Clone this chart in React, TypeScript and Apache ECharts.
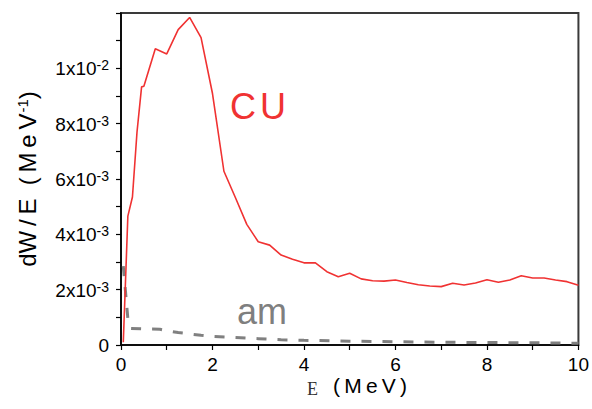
import React, { useEffect, useRef } from "react";
import * as echarts from "echarts";

// Energy (MeV) and dW/E values (in units of 1e-3 MeV^-1)
const cuE = [0.05, 0.15, 0.25, 0.35, 0.45, 0.5, 0.75, 1.0, 1.25, 1.5, 1.75, 2.0, 2.25, 2.5, 2.75, 3.0, 3.25, 3.5, 3.75, 4.0, 4.25, 4.5, 4.75, 5.0, 5.25, 5.5, 5.75, 6.0, 6.25, 6.5, 6.75, 7.0, 7.25, 7.5, 7.75, 8.0, 8.25, 8.5, 8.75, 9.0, 9.25, 9.5, 9.75, 10.0];
const cuW = [0.1, 4.66, 5.35, 7.7, 9.33, 9.35, 10.71, 10.52, 11.4, 11.84, 11.11, 9.09, 6.28, 5.33, 4.36, 3.73, 3.61, 3.25, 3.1, 2.97, 2.97, 2.65, 2.47, 2.59, 2.39, 2.32, 2.31, 2.35, 2.26, 2.18, 2.13, 2.11, 2.23, 2.17, 2.24, 2.36, 2.27, 2.35, 2.5, 2.42, 2.42, 2.35, 2.29, 2.16];

const amE = [0.05, 0.1, 0.15, 0.22, 0.5, 0.85, 1.0, 1.25, 1.5, 1.75, 2.0, 2.5, 3.0, 3.5, 4.0, 5.0, 6.0, 7.0, 8.0, 9.0, 10.0];
const amW = [2.85, 1.9, 0.95, 0.6, 0.58, 0.57, 0.52, 0.45, 0.4, 0.35, 0.31, 0.27, 0.23, 0.19, 0.17, 0.14, 0.12, 0.1, 0.09, 0.08, 0.06];

const SCALE = 1e-3;
const FONT = "Liberation Sans, Arial, sans-serif";
const TS = "\u2009";

export default function App() {
  const ref = useRef<HTMLDivElement>(null);
  useEffect(() => {
    if (!ref.current) return;
    const chart = echarts.init(ref.current, undefined, { renderer: "svg" });
    const cuData = cuE.map((e, i) => [e, cuW[i] * SCALE]);
    const amData = amE.map((e, i) => [e, amW[i] * SCALE]);
    chart.setOption({
      animation: false,
      backgroundColor: "#fff",
      grid: {
        left: 121,
        right: 12,
        top: 13,
        bottom: 64,
        show: true,
        borderColor: "#3a3a3a",
        borderWidth: 2,
        backgroundColor: "transparent",
      },
      xAxis: {
        type: "value",
        min: 0,
        max: 10,
        interval: 2,
        axisLine: { show: true, lineStyle: { color: "#000", width: 1.5 } },
        axisTick: { show: true, length: 5, lineStyle: { color: "#000", width: 1.2 } },
        minorTick: { show: true, splitNumber: 2, length: 5, lineStyle: { color: "#000", width: 1.2 } },
        splitLine: { show: false },
        axisLabel: { color: "#000", fontSize: 19, fontFamily: FONT, margin: 10 },
      },
      yAxis: {
        type: "value",
        min: 0,
        max: 0.012,
        interval: 0.002,
        name: `{a|dW${TS}/${TS}E}{a|  (${TS}M${TS}e${TS}V}{s|-1}{a|)}`,
        nameLocation: "middle",
        nameRotate: 90,
        nameGap: 82,
        nameTextStyle: {
          rich: {
            a: { fontSize: 24, fontFamily: FONT, color: "#000", verticalAlign: "bottom" },
            s: { fontSize: 15, fontFamily: FONT, color: "#000", verticalAlign: "bottom", padding: [0, 0, 9, 1] },
          },
        },
        axisLine: { show: true, lineStyle: { color: "#000", width: 1.5 } },
        axisTick: { show: true, length: 5, lineStyle: { color: "#000", width: 1.2 } },
        minorTick: { show: true, splitNumber: 2, length: 5, lineStyle: { color: "#000", width: 1.2 } },
        splitLine: { show: false },
        axisLabel: {
          showMaxLabel: false,
          margin: 12,
          formatter: (v: number) => {
            const k = Math.round(v * 1000);
            if (k === 0) return "{b|0}";
            if (k >= 10) return `{b|${k / 10}x10}{s|-2}`;
            return `{b|${k}x10}{s|-3}`;
          },
          rich: {
            b: { fontSize: 19, fontFamily: FONT, color: "#000", verticalAlign: "bottom" },
            s: { fontSize: 14, fontFamily: FONT, color: "#000", verticalAlign: "bottom", padding: [0, 0, 6, 0] },
          },
        },
      },
      graphic: [
        { type: "text", left: 230, top: 88, style: { text: "C", fontSize: 36, fontFamily: FONT, fill: "#f03232" } },
        { type: "text", left: 260, top: 88, style: { text: "U", fontSize: 36, fontFamily: FONT, fill: "#f03232" } },
        { type: "text", left: 237, top: 293, style: { text: "am", fontSize: 36, fontFamily: FONT, fill: "#7f7f7f" } },
        { type: "text", left: 307, top: 380, style: { text: "E", fontSize: 18, fontFamily: "Liberation Serif, Times New Roman, serif", fill: "#333" } },
        { type: "text", left: 333, top: 375, style: { text: `(${TS}M${TS}e${TS}V${TS})`, fontSize: 21, fontFamily: FONT, fill: "#000" } },
      ],
      series: [
        {
          type: "line",
          data: amData,
          showSymbol: false,
          lineStyle: { color: "#808080", width: 3, type: [10, 11] },
          z: 2,
        },
        {
          type: "line",
          data: cuData,
          showSymbol: false,
          lineStyle: { color: "#f03232", width: 1.6 },
          z: 3,
        },
      ],
    });
    return () => chart.dispose();
  }, []);
  return <div ref={ref} style={{ width: 592, height: 409, position: "absolute", left: 0, top: 0 }} />;
}
